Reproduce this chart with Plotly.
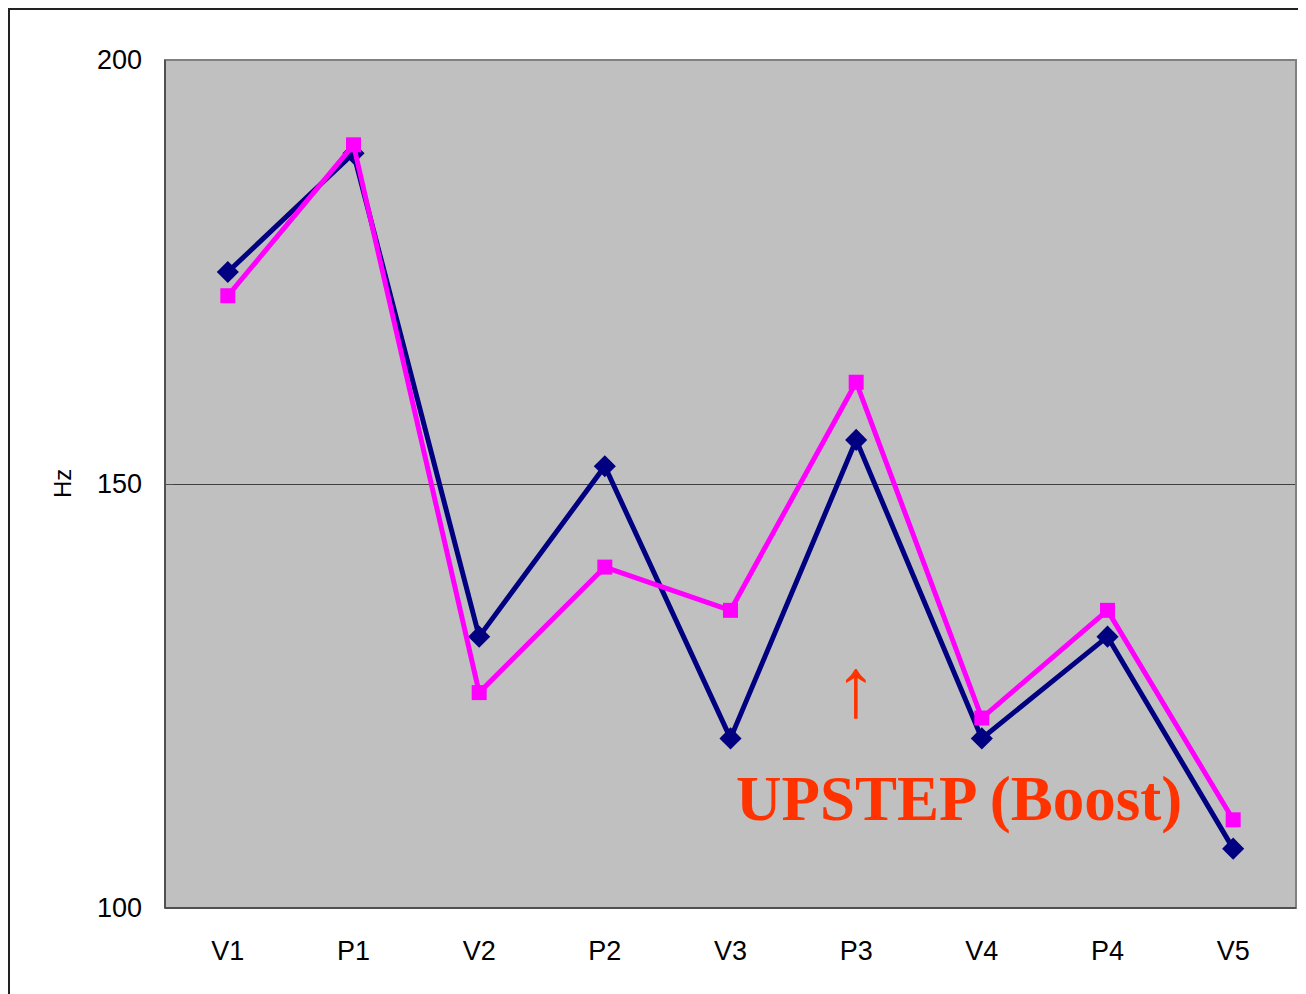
import plotly.graph_objects as go

categories = ["V1", "P1", "V2", "P2", "V3", "P3", "V4", "P4", "V5"]
series_navy = [175.0, 189.0, 132.0, 152.1, 120.0, 155.2, 120.0, 132.0, 107.0]
series_magenta = [172.2, 190.0, 125.4, 140.2, 135.1, 162.0, 122.4, 135.1, 110.4]
y_ticks = [100, 150, 200]

PW, PH = 1131, 848  # plot area size in px

fig = go.Figure()
fig.add_trace(go.Scatter(
    x=categories, y=series_navy, mode="lines+markers",
    line=dict(color="#000080", width=5),
    marker=dict(symbol="diamond", size=17, color="#000080"),
    showlegend=False, cliponaxis=False))
fig.add_trace(go.Scatter(
    x=categories, y=series_magenta, mode="lines+markers",
    line=dict(color="#FF00FF", width=5),
    marker=dict(symbol="square", size=15, color="#FF00FF"),
    showlegend=False, cliponaxis=False))

shapes = []
# white frame edge lines (top and left)
shapes.append(dict(type="line", xref="paper", yref="paper", layer="below",
                   x0=-157/PW, x1=1 + 10/PW, y0=1 + 51/PH, y1=1 + 51/PH,
                   line=dict(color="#222", width=2)))
shapes.append(dict(type="line", xref="paper", yref="paper", layer="below",
                   x0=-156/PW, x1=-156/PW, y0=-86/PH, y1=1 + 52/PH,
                   line=dict(color="#222", width=2)))
# plot border
shapes.append(dict(type="rect", xref="paper", yref="paper",
                   x0=0, x1=1, y0=0, y1=1, line=dict(color="#808080", width=2)))
shapes.append(dict(type="line", xref="paper", yref="paper",
                   x0=0, x1=0, y0=0, y1=1, line=dict(color="#505050", width=2)))
shapes.append(dict(type="line", xref="paper", yref="paper",
                   x0=0, x1=1, y0=0, y1=0, line=dict(color="#505050", width=2)))

annotations = [
    dict(text="Hz", xref="paper", yref="paper", x=-103/PW, y=0.5,
         xanchor="center", yanchor="middle",
         showarrow=False, textangle=-90,
         font=dict(family="Liberation Sans, Arial", size=24, color="black")),
    dict(text="↑", xref="x", yref="y", x="P3", y=126.0, showarrow=False,
         xanchor="center", yanchor="middle",
         font=dict(family="Liberation Serif, Times New Roman", size=84, color="#FF3300")),
    dict(text="<b>UPSTEP (Boost)</b>", xref="x", yref="y", x=5.82, y=112.8,
         showarrow=False, xanchor="center", yanchor="middle",
         font=dict(family="Liberation Serif, Times New Roman", size=63, color="#FF3300")),
]

fig.update_layout(
    width=1298, height=986,
    margin=dict(l=157, r=10, t=52, b=86),
    paper_bgcolor="white", plot_bgcolor="#C0C0C0",
    shapes=shapes, annotations=annotations,
    xaxis=dict(type="category", range=[-0.5, len(categories) - 0.5],
               showgrid=False, zeroline=False,
               showline=False, ticks="", ticklabelstandoff=24,
               tickfont=dict(family="Liberation Sans, Arial", size=27, color="black")),
    yaxis=dict(range=[100, 200], tickvals=y_ticks, showgrid=True,
               gridcolor="#404040", gridwidth=1, zeroline=False,
               showline=False, ticks="inside", ticklen=8, tickcolor="#505050",
               ticklabelstandoff=22,
               tickfont=dict(family="Liberation Sans, Arial", size=27, color="black")),
)

fig.write_html("out.html")
